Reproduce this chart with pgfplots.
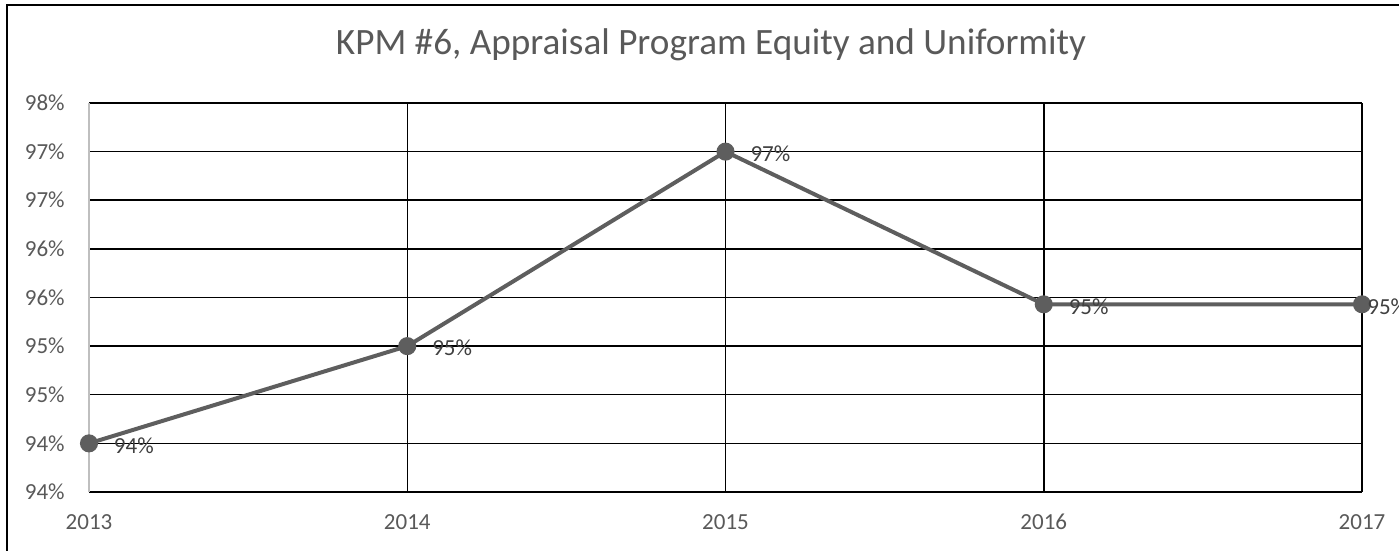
\documentclass[border=0pt]{standalone}
\usepackage{fontspec}
\setmainfont{Carlito}
\usepackage{pgfplots}
\pgfplotsset{compat=1.18}
\definecolor{txt}{HTML}{595959}
\definecolor{lbl}{HTML}{404040}
\definecolor{ser}{HTML}{5E5E5E}
\definecolor{yax}{HTML}{BFBFBF}

\begin{document}
\begin{tikzpicture}
\path[use as bounding box] (0,0) rectangle (699.5pt,275.5pt);
\clip (0,0) rectangle (699.5pt,275.5pt);

% chart area border (only left and top fall inside the picture)
\draw[black, line width=0.75pt] (3.5pt,-5pt) -- (3.5pt,273pt) -- (720pt,273pt);

\node[anchor=base, text=txt, font=\fontsize{18.6}{22}\selectfont, inner sep=0pt]
  at (355.5pt,248pt) {KPM \#6, Appraisal Program Equity and Uniformity};

\begin{axis}[
    at={(44.5pt,29.5pt)}, anchor=south west,
    scale only axis,
    width=636.5pt, height=194.5pt,
    xmin=2013, xmax=2017,
    ymin=93.5, ymax=97.5,
    xtick={2013,2014,2015,2016,2017},
    xticklabels={2013,2014,2015,2016,2017},
    minor xtick={2014,2015,2016,2017},
    ytick={93.5,94,94.5,95,95.5,96,96.5,97,97.5},
    yticklabels={94\%,94\%,95\%,95\%,96\%,96\%,97\%,97\%,98\%},
    major tick length=0pt, minor tick length=0pt,
    xminorgrids=true, ymajorgrids=true,
    grid style={black, line width=0.75pt},
    minor grid style={black, line width=0.75pt},
    axis x line*=bottom,
    axis y line*=left,
    x axis line style={black, line width=0.75pt, -},
    y axis line style={yax, line width=1pt, -},
    tick label style={text=txt, font=\fontsize{11.5}{13}\selectfont},
    yticklabel style={anchor=east, inner sep=0pt, xshift=-12pt},
    xticklabel style={anchor=center, inner sep=0pt, yshift=-15pt},
    clip=false,
    point meta=explicit symbolic,
    every node near coord/.append style={anchor=west, inner sep=0pt, yshift=-1pt,
        text=lbl, font=\fontsize{11.5}{13}\selectfont},
]
\addplot[ser, line width=2pt, mark=*, mark size=3.5pt, mark options={fill=ser, draw=ser},
    nodes near coords, nodes near coords style={xshift=11.5pt}]
  coordinates {
    (2013,94.0) [94\%]
    (2014,95.0) [95\%]
    (2015,97.0) [97\%]
    (2016,95.43) [95\%]
    (2017,95.43) []
  };
% label of the last point, pushed back inside the chart area as in the source
\addplot[draw=none, mark=none, nodes near coords, nodes near coords style={xshift=2.5pt}]
  coordinates {
    (2017,95.43) [95\%]
  };
\end{axis}
\end{tikzpicture}
\end{document}
